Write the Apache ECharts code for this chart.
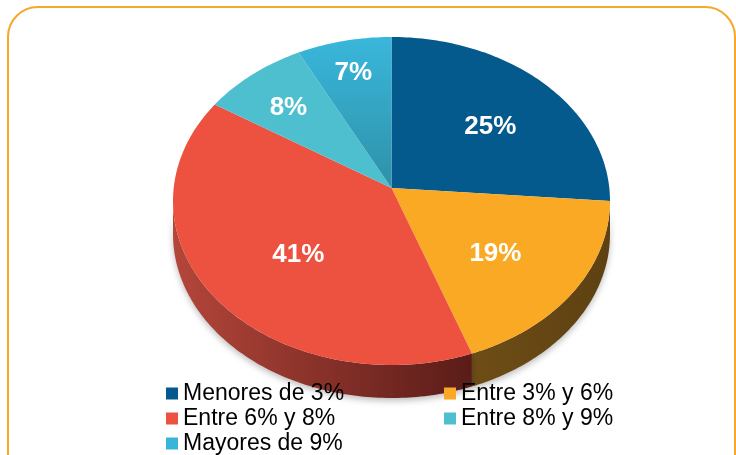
<!DOCTYPE html>
<html>
<head>
<meta charset="utf-8">
<script src="https://cdn.jsdelivr.net/npm/echarts@6/dist/echarts.min.js"></script>
<style>
  html, body { margin: 0; padding: 0; background: #fff; }
  #chart { width: 736px; height: 455px; }
</style>
</head>
<body>
<div id="chart"></div>
<script>
// data
const categories = ['Menores de 3%', 'Entre 3% y 6%', 'Entre 6% y 8%', 'Entre 8% y 9%', 'Mayores de 9%'];
const values = [25, 19, 41, 8, 7];

// look
const topColors = ['#045a8c', '#f9a924', '#ec523f', '#4ebfcf', '#38b5d9'];
const wallColors = [['#063f63', '#05324f'], ['#6e4d16', '#5e4112'], ['#b4463a', '#5a1c18'], ['#2e7f8a', '#256a73'], ['#27809a', '#1f6b80']];
const labelR = [0.64, 0.575, 0.54, 0.74, 0.8];

// ellipse geometry of the tilted pie
const CX = 391.5, CY = 201, RX = 218.5, RY = 164, APEX_Y = 188, DEPTH = 33;

const total = values.reduce((a, b) => a + b, 0);
const starts = [];
let acc = 0;
values.forEach(v => { starts.push(acc / total * 360); acc += v; });

function pt(deg, dy) {
  const a = deg * Math.PI / 180;
  return [CX + RX * Math.sin(a), CY - RY * Math.cos(a) + (dy || 0)];
}

function arc(a1, a2, dy) {
  const pts = [];
  const n = Math.max(2, Math.ceil(Math.abs(a2 - a1)));
  for (let i = 0; i <= n; i++) pts.push(pt(a1 + (a2 - a1) * i / n, dy));
  return pts;
}

function makeSeries(i) {
  return {
    name: categories[i],
    type: 'custom',
    coordinateSystem: 'none',
    silent: true,
    data: [values[i]],
    itemStyle: { color: topColors[i] },
    renderItem: () => {
      const a1 = starts[i];
      const a2 = a1 + values[i] / total * 360;
      const children = [];

      // side wall, only the front half shows
      const s = Math.max(a1, 90), e = Math.min(a2, 270);
      if (s < e) {
        const top = arc(s, e, 0);
        const bottom = arc(e, s, DEPTH);
        const flip = pt(e)[0] < pt(s)[0];
        children.push({
          type: 'polygon',
          z2: 1,
          shape: { points: top.concat(bottom) },
          style: {
            fill: new echarts.graphic.LinearGradient(flip ? 0 : 1, 0, flip ? 1 : 0, 0, [
              { offset: 0, color: wallColors[i][0] },
              { offset: 1, color: wallColors[i][1] }
            ]),
            shadowBlur: 6,
            shadowOffsetY: 3,
            shadowColor: 'rgba(0,0,0,0.25)'
          }
        });
      }

      // top face
      let fill = topColors[i];
      if (i === 4) {
        fill = new echarts.graphic.LinearGradient(0, 0, 0, 1, [
          { offset: 0, color: '#39b7db' },
          { offset: 1, color: '#2e91a8' }
        ]);
      }
      children.push({
        type: 'polygon',
        z2: 2,
        shape: { points: [[CX, APEX_Y]].concat(arc(a1, a2, 0)) },
        style: { fill: fill }
      });

      // percentage label
      const mid = (a1 + a2) / 2 * Math.PI / 180;
      children.push({
        type: 'text',
        z2: 10,
        x: CX + RX * labelR[i] * Math.sin(mid),
        y: CY - RY * labelR[i] * Math.cos(mid),
        style: {
          text: values[i] + '%',
          fill: '#fff',
          font: 'bold 26px "Liberation Sans", Arial, sans-serif',
          align: 'center',
          verticalAlign: 'middle',
          textAlign: 'center',
          textVerticalAlign: 'middle'
        }
      });
      return { type: 'group', children: children };
    }
  };
}

const legendBase = {
  orient: 'vertical',
  icon: 'rect',
  itemWidth: 12,
  itemHeight: 12,
  itemGap: 2,
  padding: 0,
  height: 120,
  width: 260,
  selectedMode: false,
  textStyle: { fontSize: 23, lineHeight: 20, color: '#000', fontFamily: '"Liberation Sans", Arial, sans-serif' }
};

const legendItem = i => ({ name: categories[i], itemStyle: { color: topColors[i] } });

const chart = echarts.init(document.getElementById('chart'));
chart.setOption({
  animation: false,
  backgroundColor: '#fff',
  graphic: [{
    type: 'rect',
    shape: { x: 8, y: 7, width: 727, height: 480, r: 30 },
    style: { fill: 'none', stroke: '#f6a82a', lineWidth: 2 },
    z: -1
  }],
  legend: [
    Object.assign({}, legendBase, { left: 166, top: 382, data: [0, 2, 4].map(legendItem) }),
    Object.assign({}, legendBase, { left: 444, top: 382, data: [1, 3].map(legendItem) })
  ],
  series: values.map((v, i) => makeSeries(i))
});
</script>
</body>
</html>
